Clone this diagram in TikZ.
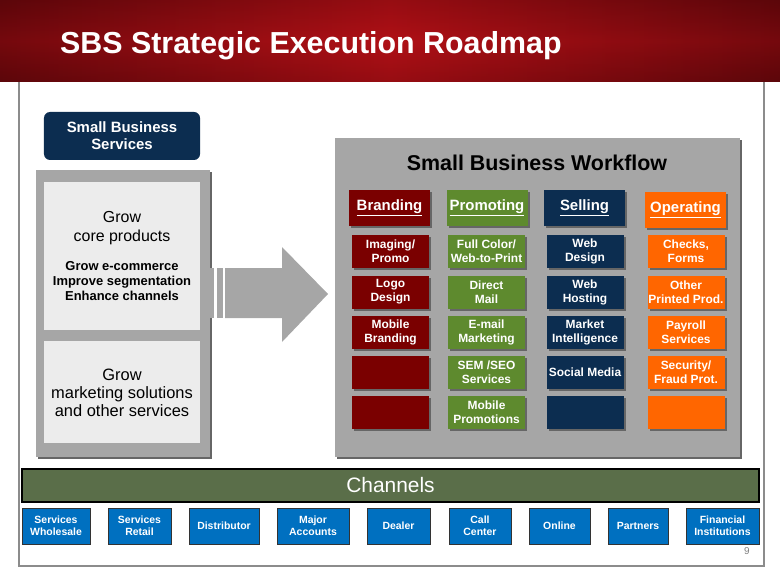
\documentclass[tikz,border=0pt]{standalone}
\usepackage{fontspec}
\setmainfont{Liberation Sans}
\usetikzlibrary{shadows}
\definecolor{titlered}{RGB}{176,16,22}
\definecolor{titledark}{RGB}{92,6,10}
\definecolor{sbsnavy}{RGB}{12,45,80}
\definecolor{brandred}{RGB}{122,0,0}
\definecolor{promgreen}{RGB}{94,138,46}
\definecolor{sellnavy}{RGB}{12,45,80}
\definecolor{operorange}{RGB}{255,102,0}
\definecolor{panelgray}{RGB}{166,166,166}
\definecolor{lightgray}{RGB}{236,236,236}
\definecolor{changreen}{RGB}{90,110,73}
\definecolor{chanblue}{RGB}{0,112,192}

\begin{document}
\begin{tikzpicture}[x=1bp,y=-1bp,
  shadowed/.style={drop shadow={shadow xshift=2bp,shadow yshift=-2bp,fill=black!60,opacity=1}},
  box/.style={shadowed,inner sep=0pt,align=center,text=white,minimum width=77bp,minimum height=33bp,
    font=\fontsize{12}{14}\selectfont\bfseries},
  header/.style={box,minimum width=81bp,minimum height=36bp,font=\fontsize{15}{18}\selectfont\bfseries},
  chan/.style={draw=black!80,fill=chanblue,text=white,inner sep=0pt,align=center,minimum height=36bp,
    font=\fontsize{10.5}{12.5}\selectfont\bfseries}]
\useasboundingbox (0,0) rectangle (780,585);

% tegn ramme og titel
\draw[line width=2bp,color=black!45] (19,80) rectangle (764,566);
\shade[top color=titledark,bottom color=titledark,middle color=titlered] (0,0) rectangle (780,82);
\shade[left color=titledark,right color=titledark,middle color=titlered,opacity=0.7] (0,0) rectangle (780,82);
\node[anchor=base west,inner sep=0pt,text=white,font=\fontsize{30.5}{36}\selectfont\bfseries] (title) at (60,54) {SBS Strategic Execution Roadmap};

% venstre side
\node[fill=sbsnavy,rounded corners=6bp,minimum width=156bp,minimum height=48bp,inner sep=0pt,align=center,
  text=white,font=\fontsize{15}{17}\selectfont\bfseries] (sbs) at (122,136) {Small Business\\Services};
\node[shadowed,fill=panelgray,minimum width=174bp,minimum height=287bp] (leftPanel) at (123,313.5) {};
\node[fill=lightgray,minimum width=156bp,minimum height=148bp] (coreBox) at (122,256) {};
\node[fill=lightgray,minimum width=156bp,minimum height=102bp] (mktBox) at (122,392) {};
\node[align=center,font=\fontsize{16}{19}\selectfont] (growCore) at (122,228) {Grow\\core products};
\node[align=center,font=\fontsize{13}{15.5}\selectfont\bfseries] (coreList) at (122,281) {Grow e-commerce\\Improve segmentation\\Enhance channels};
\node[align=center,font=\fontsize{16.5}{18}\selectfont] (growMkt) at (122,393) {Grow\\marketing solutions\\and other services};

% pil
\fill[panelgray] (210,268) rectangle (214,318);
\fill[panelgray] (217,268) rectangle (223,318);
\fill[panelgray] (225,268) -- (282,268) -- (282,247) -- (328,294) -- (282,342) -- (282,318) -- (225,318) -- cycle;

% workflow
\node[shadowed,fill=panelgray,minimum width=405bp,minimum height=319bp] (wfPanel) at (537.5,297.5) {};
\node[font=\fontsize{21.5}{24}\selectfont\bfseries] (wfTitle) at (537,163) {Small Business Workflow};

\node[header,fill=brandred] (branding) at (389.5,208) {\underline{Branding}};
\node[header,fill=promgreen] (promoting) at (487,208) {\underline{Promoting}};
\node[header,fill=sellnavy] (selling) at (584.5,208) {\underline{Selling}};
\node[header,fill=operorange] (operating) at (685.5,210) {\underline{Operating}};

\node[box,fill=brandred] (imaging) at (390.5,251.5) {Imaging/\\Promo};
\node[box,fill=brandred] (logo) at (390.5,292) {Logo\\Design};
\node[box,fill=brandred] (mobBrand) at (390.5,332) {Mobile\\Branding};
\node[box,fill=brandred] (brandA) at (390.5,372) {};
\node[box,fill=brandred] (brandB) at (390.5,412) {};

\node[box,fill=promgreen] (fullColor) at (486.5,251.5) {Full Color/\\Web-to-Print};
\node[box,fill=promgreen] (directMail) at (486.5,292) {Direct\\Mail};
\node[box,fill=promgreen] (email) at (486.5,332) {E-mail\\Marketing};
\node[box,fill=promgreen] (semSeo) at (486.5,372) {SEM /SEO\\Services};
\node[box,fill=promgreen] (mobPromo) at (486.5,412) {Mobile\\Promotions};

\node[box,fill=sellnavy] (webDesign) at (585,251.5) {Web\\Design};
\node[box,fill=sellnavy] (webHost) at (585,292) {Web\\Hosting};
\node[box,fill=sellnavy] (market) at (585,332) {Market\\Intelligence};
\node[box,fill=sellnavy] (social) at (585,372) {Social Media};
\node[box,fill=sellnavy] (sellA) at (585,412) {};

\node[box,fill=operorange] (checks) at (686,251.5) {Checks,\\Forms};
\node[box,fill=operorange] (otherPrint) at (686,292) {Other\\Printed Prod.};
\node[box,fill=operorange] (payroll) at (686,332) {Payroll\\Services};
\node[box,fill=operorange] (security) at (686,372) {Security/\\Fraud Prot.};
\node[box,fill=operorange] (operA) at (686,412) {};

% kanaler
\node[draw=black,line width=1.2bp,fill=changreen,text=white,minimum width=737bp,minimum height=33bp,inner sep=0pt,
  font=\fontsize{21}{24}\selectfont] (channels) at (390.5,485.5) {Channels};
\node[chan,minimum width=68bp] (wholesale) at (56,526) {Services\\Wholesale};
\node[chan,minimum width=63bp] (retail) at (139.5,526) {Services\\Retail};
\node[chan,minimum width=70bp] (distributor) at (224,526) {Distributor};
\node[chan,minimum width=72bp] (major) at (313,526) {Major\\Accounts};
\node[chan,minimum width=63bp] (dealer) at (398.5,526) {Dealer};
\node[chan,minimum width=62bp] (callCenter) at (480,526) {Call\\Center};
\node[chan,minimum width=61bp] (online) at (559.5,526) {Online};
\node[chan,minimum width=60bp] (partners) at (638,526) {Partners};
\node[chan,minimum width=73bp] (financial) at (722.5,526) {Financial\\Institutions};

\node[text=black!50,font=\fontsize{10}{12}\selectfont] (pageNo) at (747,551) {9};
\end{tikzpicture}
\end{document}
